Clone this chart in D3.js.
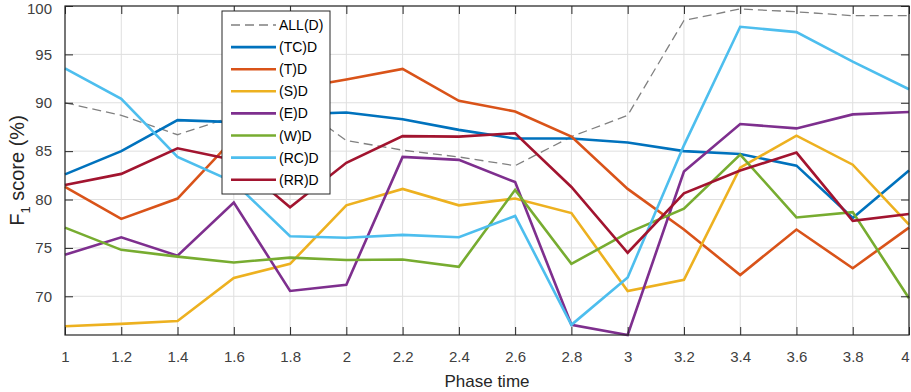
<!DOCTYPE html>
<html>
<head>
<meta charset="utf-8">
<script src="https://cdn.jsdelivr.net/npm/d3@7/dist/d3.min.js"></script>
<style>
  html, body { margin: 0; padding: 0; background: #fff; }
  svg { display: block; font-family: "Liberation Sans", Arial, Helvetica, sans-serif; }
</style>
</head>
<body>
<svg id="chart" width="911" height="392"></svg>
<script>
// ---- Data ----
const phaseTime = [1, 1.2, 1.4, 1.6, 1.8, 2, 2.2, 2.4, 2.6, 2.8, 3, 3.2, 3.4, 3.6, 3.8, 4];
const xTickLabels = ["1", "1.2", "1.4", "1.6", "1.8", "2", "2.2", "2.4", "2.6", "2.8", "3", "3.2", "3.4", "3.6", "3.8", "4"];
const yTicks = [70, 75, 80, 85, 90, 95, 100];

const seriesNames = ["ALL(D)", "(TC)D", "(T)D", "(S)D", "(E)D", "(W)D", "(RC)D", "(RR)D"];
const allD = [90.0, 88.7, 86.7, 88.6, 90.3, 86.1, 85.1, 84.4, 83.5, 86.5, 88.7, 98.5, 99.7, 99.4, 99.0, 99.0];
const tcD  = [82.6, 85.0, 88.2, 88.0, 88.8, 89.0, 88.3, 87.2, 86.3, 86.3, 85.9, 85.0, 84.7, 83.5, 78.1, 83.0];
const tD   = [81.3, 78.0, 80.1, 86.3, 91.4, 92.4, 93.5, 90.2, 89.1, 86.5, 81.1, 76.9, 72.2, 76.9, 72.9, 77.1];
const sD   = [66.9, 67.15, 67.45, 71.9, 73.35, 79.4, 81.1, 79.4, 80.1, 78.6, 70.55, 71.7, 83.3, 86.6, 83.6, 77.4];
const eD   = [74.3, 76.1, 74.2, 79.7, 70.55, 71.2, 84.4, 84.1, 81.8, 67.05, 66.0, 82.9, 87.8, 87.35, 88.8, 89.05];
const wD   = [77.1, 74.8, 74.1, 73.5, 74.0, 73.75, 73.8, 73.05, 81.0, 73.35, 76.55, 79.05, 84.65, 78.15, 78.7, 69.8];
const rcD  = [93.55, 90.4, 84.4, 81.8, 76.2, 76.05, 76.35, 76.1, 78.3, 67.05, 71.95, 85.6, 97.85, 97.3, 94.25, 91.4];
const rrD  = [81.5, 82.65, 85.3, 84.1, 79.2, 83.8, 86.55, 86.5, 86.85, 81.3, 74.5, 80.65, 83.0, 84.85, 77.8, 78.5];

const seriesValues = [allD, tcD, tD, sD, eD, wD, rcD, rrD];
const seriesColors = ["#808080", "#0072BD", "#D95319", "#EDB120", "#7E2F8E", "#77AC30", "#4DBEEE", "#A2142F"];

// ---- Layout ----
const L = 65, R = 909, T = 6, B = 335;
const svg = d3.select("#chart");

const x = d3.scaleLinear().domain([1, 4]).range([L, R]);
const y = d3.scaleLinear().domain([66, 100]).range([B, T]);

// grid
const grid = svg.append("g");
grid.selectAll("line.gx").data(phaseTime).enter().append("line")
  .attr("x1", d => x(d)).attr("x2", d => x(d)).attr("y1", T).attr("y2", B)
  .attr("stroke", "#dfdfdf").attr("stroke-width", 1);
grid.selectAll("line.gy").data(yTicks).enter().append("line")
  .attr("x1", L).attr("x2", R).attr("y1", d => y(d)).attr("y2", d => y(d))
  .attr("stroke", "#dfdfdf").attr("stroke-width", 1);

// lines
const line = d3.line().x((d, i) => x(phaseTime[i])).y(d => y(d));
seriesValues.forEach((vals, k) => {
  const p = svg.append("path").datum(vals)
    .attr("d", line)
    .attr("fill", "none")
    .attr("stroke", seriesColors[k])
    .attr("stroke-linejoin", "miter");
  if (k === 0) {
    p.attr("stroke-width", 1.3).attr("stroke-dasharray", "9,5");
  } else {
    p.attr("stroke-width", 2.6);
  }
});

// axes (ticks inward)
const tickLen = 8;
const axisColor = "#262626";
const xAxisB = d3.axisBottom(x).tickValues(phaseTime).tickFormat((d, i) => xTickLabels[i]).tickSizeInner(-tickLen).tickSizeOuter(0).tickPadding(16);
const xAxisT = d3.axisTop(x).tickValues(phaseTime).tickFormat("").tickSizeInner(-tickLen).tickSizeOuter(0);
const yAxisL = d3.axisLeft(y).tickValues(yTicks).tickFormat(d3.format("d")).tickSizeInner(-tickLen).tickSizeOuter(0).tickPadding(13);
const yAxisR = d3.axisRight(y).tickValues(yTicks).tickFormat("").tickSizeInner(-tickLen).tickSizeOuter(0);

function styleAxis(g) {
  g.select(".domain").remove();
  g.selectAll(".tick line").attr("stroke", axisColor).attr("stroke-width", 1);
  g.selectAll(".tick text").attr("fill", "#404040").style("font-size", "15px")
   .style("font-family", "'Liberation Sans', Arial, sans-serif");
}
const gxb = svg.append("g").attr("transform", `translate(0,${B})`).call(xAxisB).call(styleAxis);
// keep the last label inside the picture, as in the reference where it sits at the edge
gxb.selectAll(".tick text").filter((d, i) => i === phaseTime.length - 1).attr("text-anchor", "end").attr("dx", 0);
svg.append("g").attr("transform", `translate(0,${T})`).call(xAxisT).call(styleAxis);
const gyl = svg.append("g").attr("transform", `translate(${L},0)`).call(yAxisL).call(styleAxis);
gyl.selectAll(".tick text").filter(d => d === 100).attr("dy", "0.52em");
svg.append("g").attr("transform", `translate(${R},0)`).call(yAxisR).call(styleAxis);

// box
svg.append("rect").attr("x", L).attr("y", T).attr("width", R - L).attr("height", B - T)
  .attr("fill", "none").attr("stroke", axisColor).attr("stroke-width", 1.2);

// axis labels
svg.append("text").attr("x", (L + R) / 2).attr("y", 387).attr("text-anchor", "middle")
  .attr("fill", "#262626").style("font-size", "17px").text("Phase time");

const yl = svg.append("text").attr("transform", `translate(24,${(T + B) / 2}) rotate(-90)`)
  .attr("text-anchor", "middle").attr("fill", "#262626").style("font-size", "20px");
yl.append("tspan").text("F");
yl.append("tspan").attr("dy", 6).style("font-size", "13px").text("1");
yl.append("tspan").attr("dy", -6).text(" score (%)");

// legend
const lg = svg.append("g");
lg.append("rect").attr("x", 222).attr("y", 11).attr("width", 108).attr("height", 183)
  .attr("fill", "#fff").attr("stroke", axisColor).attr("stroke-width", 1);
seriesNames.forEach((name, k) => {
  const yy = 25 + k * 22.1;
  const ln = lg.append("line").attr("x1", 231).attr("x2", 276).attr("y1", yy).attr("y2", yy)
    .attr("stroke", seriesColors[k]);
  if (k === 0) ln.attr("stroke-width", 1.3).attr("stroke-dasharray", "9,5");
  else ln.attr("stroke-width", 2.6);
  lg.append("text").attr("x", 279).attr("y", yy).attr("dy", "0.36em")
    .attr("fill", "#000").style("font-size", "14px").text(name);
});
</script>
</body>
</html>
